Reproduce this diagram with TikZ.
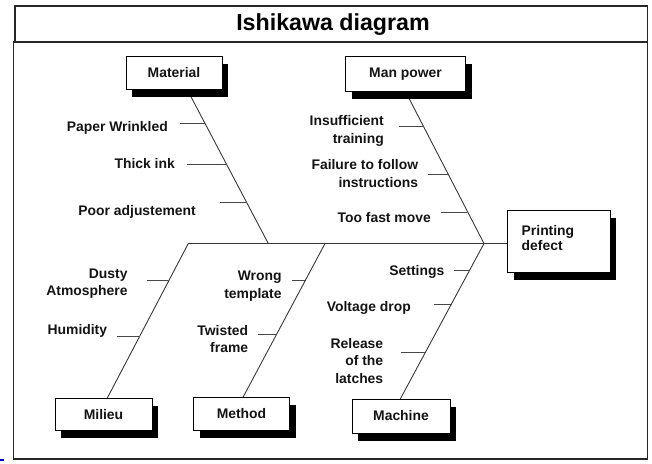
\documentclass[tikz,border=0pt]{standalone}
\usepackage{fontspec}
\setmainfont{Liberation Sans}
\usetikzlibrary{shadows,backgrounds}
\begin{document}
\begin{tikzpicture}[x=1pt,y=-1pt,
  lbl/.style={font=\bfseries\fontsize{13.9}{17.3}\selectfont, inner sep=0pt, align=right, anchor=east, text=black!92},
  bone/.style={draw=black!78, line width=0.9pt},
  tickln/.style={draw=black!72, line width=0.9pt},
  cause/.style={draw=black, line width=0.8pt, fill=white, inner sep=0pt,
    font=\bfseries\fontsize{13.9}{16}\selectfont, text=black!92,
    drop shadow={shadow xshift=6pt, shadow yshift=-7.5pt, opacity=1, fill=black}},
  frame/.style={draw=black!85, line width=1.6pt}]
\useasboundingbox (0,0) rectangle (652,463);
% frame
\draw[frame, line width=1.4pt] (15,6) rectangle (647.5,42);
\draw[frame] (13.3,42) rectangle (647.5,459);
\node[font=\bfseries\fontsize{23.2}{27}\selectfont, inner sep=0pt] (title) at (333,25) {Ishikawa diagram};
\fill[blue!75!black] (0,458.5) rectangle (4,461);
% boxes
\node[cause, minimum width=96pt, minimum height=33.5pt] (mat) at (174,72.75) {Material};
\node[cause, minimum width=120pt, minimum height=34.5pt] (man) at (405.5,73.75) {Man power};
\node[cause, minimum width=102.5pt, minimum height=62pt] (pd) at (558.75,241) {};
\node[font=\bfseries\fontsize{13.9}{15.8}\selectfont, text=black!92, align=left, anchor=west, inner sep=0pt] (pdtext) at (521.5,238) {Printing\\defect};
\node[cause, minimum width=97pt, minimum height=32.5pt] (mil) at (103.5,414.25) {Milieu};
\node[cause, minimum width=96pt, minimum height=33pt] (met) at (241.5,414) {Method};
\node[cause, minimum width=98pt, minimum height=34pt] (mac) at (401,416) {Machine};
% joints and bone ends
\coordinate (jMil) at (188.3,243.5);
\coordinate (jMat) at (268.3,243.5);
\coordinate (jMet) at (325,243.5);
\coordinate (jHead) at (484,243.5);
\coordinate (matEnd) at (178.3,72.75);
\coordinate (manEnd) at (396.3,73.75);
\coordinate (milEnd) at (98.8,414.25);
\coordinate (metEnd) at (234.1,414);
\coordinate (macEnd) at (391.1,416);
\begin{pgfonlayer}{background}
\draw[bone] (jMil) -- (jHead -| pd.west);
\draw[bone] (matEnd) -- (jMat);
\draw[bone] (manEnd) -- (jHead);
\draw[bone] (milEnd) -- (jMil);
\draw[bone] (metEnd) -- (jMet);
\draw[bone] (macEnd) -- (jHead);
\end{pgfonlayer}
% ticks
\draw[tickln] (180,123.3) -- (205,123.3);
\draw[tickln] (186.7,164) -- (226,164);
\draw[tickln] (220,202.3) -- (246.8,202.3);
\draw[tickln] (399,126.7) -- (423,126.7);
\draw[tickln] (427.7,174.5) -- (448,174.5);
\draw[tickln] (441,212) -- (467,212);
\draw[tickln] (146.7,280) -- (169.4,280);
\draw[tickln] (116.7,336.7) -- (139.7,336.7);
\draw[tickln] (291.7,280) -- (305.5,280);
\draw[tickln] (258.3,334.3) -- (276.6,334.3);
\draw[tickln] (454,270.3) -- (469.8,270.3);
\draw[tickln] (433.8,304) -- (451.6,304);
\draw[tickln] (400.8,352.7) -- (425.3,352.7);
% labels
\node[lbl] (l1) at (168,127.7) {Paper Wrinkled};
\node[lbl] (l2) at (175,164) {Thick ink};
\node[lbl] (l3) at (196,212) {Poor adjustement};
\node[lbl] (l4) at (384,131) {Insufficient\\training};
\node[lbl] (l5) at (418.3,173.4) {Failure to follow\\instructions};
\node[lbl] (l6) at (431,218) {Too fast move};
\node[lbl] (l7) at (127.7,283.7) {Dusty\\Atmosphere};
\node[lbl] (l8) at (107.3,331) {Humidity};
\node[lbl] (l9) at (281.7,286.3) {Wrong\\template};
\node[lbl] (l10) at (248.3,339) {Twisted\\frame};
\node[lbl] (l11) at (444.5,272) {Settings};
\node[lbl] (l12) at (411,308) {Voltage drop};
\node[lbl] (l13) at (383.4,361) {Release\\of the\\latches};
\end{tikzpicture}
\end{document}
